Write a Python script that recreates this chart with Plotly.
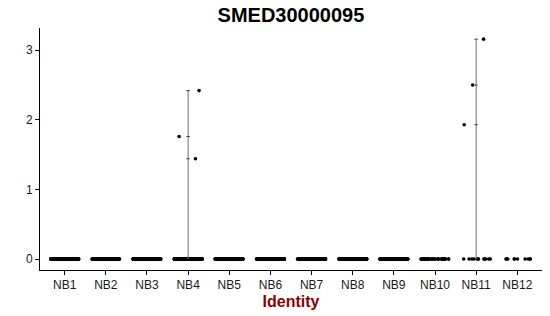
import plotly.graph_objects as go

# ---- data ----
categories = ["NB1", "NB2", "NB3", "NB4", "NB5", "NB6", "NB7", "NB8", "NB9", "NB10", "NB11", "NB12"]
zero_counts = [160, 150, 150, 150, 150, 150, 150, 150, 140, 40, 12, 10]
nonzero_values = {
    "NB4": [1.76, 1.44, 2.42],
    "NB11": [2.50, 1.93, 3.16],
}
title_text = "SMED30000095"
x_title = "Identity"
y_ticks = [0, 1, 2, 3]

# build long-form data
zx, zy = [], []
for cat, n in zip(categories, zero_counts):
    zx += [cat] * n
    zy += [0.0] * n
nx, ny = [], []
for cat, vals in nonzero_values.items():
    nx += [cat] * len(vals)
    ny += vals

fig = go.Figure()

# thin "violin" outlines (degenerate shape -> a vertical line) for categories with expression
for cat, vals in nonzero_values.items():
    fig.add_trace(go.Scatter(
        x=[cat, cat], y=[0, max(vals)], mode="lines",
        line=dict(color="#6e6e6e", width=1), hoverinfo="skip", showlegend=False))
    fig.add_trace(go.Scatter(
        x=[cat] * len(vals), y=vals, mode="markers",
        marker=dict(symbol="line-ew", size=2.5, line=dict(color="#444444", width=1)),
        hoverinfo="skip", showlegend=False))

box_style = dict(
    boxpoints="all", jitter=1, pointpos=0,
    marker=dict(color="black", size=3.6),
    line=dict(width=0, color="rgba(0,0,0,0)"),
    fillcolor="rgba(0,0,0,0)",
    hoverinfo="skip", showlegend=False)

# jittered points (box traces with hidden boxes)
fig.add_trace(go.Box(x=zx, y=zy, **box_style))
fig.add_trace(go.Box(x=nx, y=ny, **box_style))

fig.update_layout(
    width=550, height=316,
    margin=dict(l=40, r=8, t=28, b=46),
    paper_bgcolor="white", plot_bgcolor="white",
    boxgap=0.02, boxmode="overlay",
    font=dict(family="Liberation Sans, Arial, sans-serif", color="black", size=12),
    title=dict(text=f"<b>{title_text}</b>", x=0.529, xanchor="center",
               y=0.952, yanchor="middle", font=dict(size=20, color="black")),
    showlegend=False,
)
fig.update_xaxes(
    type="category", categoryorder="array", categoryarray=categories,
    range=[-0.6, len(categories) - 0.4],
    showline=True, linecolor="black", linewidth=1,
    ticks="outside", ticklen=4, tickcolor="black", tickwidth=1,
    showgrid=False, zeroline=False,
    tickfont=dict(size=12, color="#1a1a1a"),
    title=dict(text=f"<b>{x_title}</b>", font=dict(size=16, color="#8b0000"), standoff=4),
)
fig.update_yaxes(
    range=[-0.158, 3.32],
    tickvals=y_ticks,
    showline=True, linecolor="black", linewidth=1,
    ticks="outside", ticklen=4, tickcolor="black", tickwidth=1,
    showgrid=False, zeroline=False,
    tickfont=dict(size=12, color="#1a1a1a"),
)

fig.write_html("out.html")
